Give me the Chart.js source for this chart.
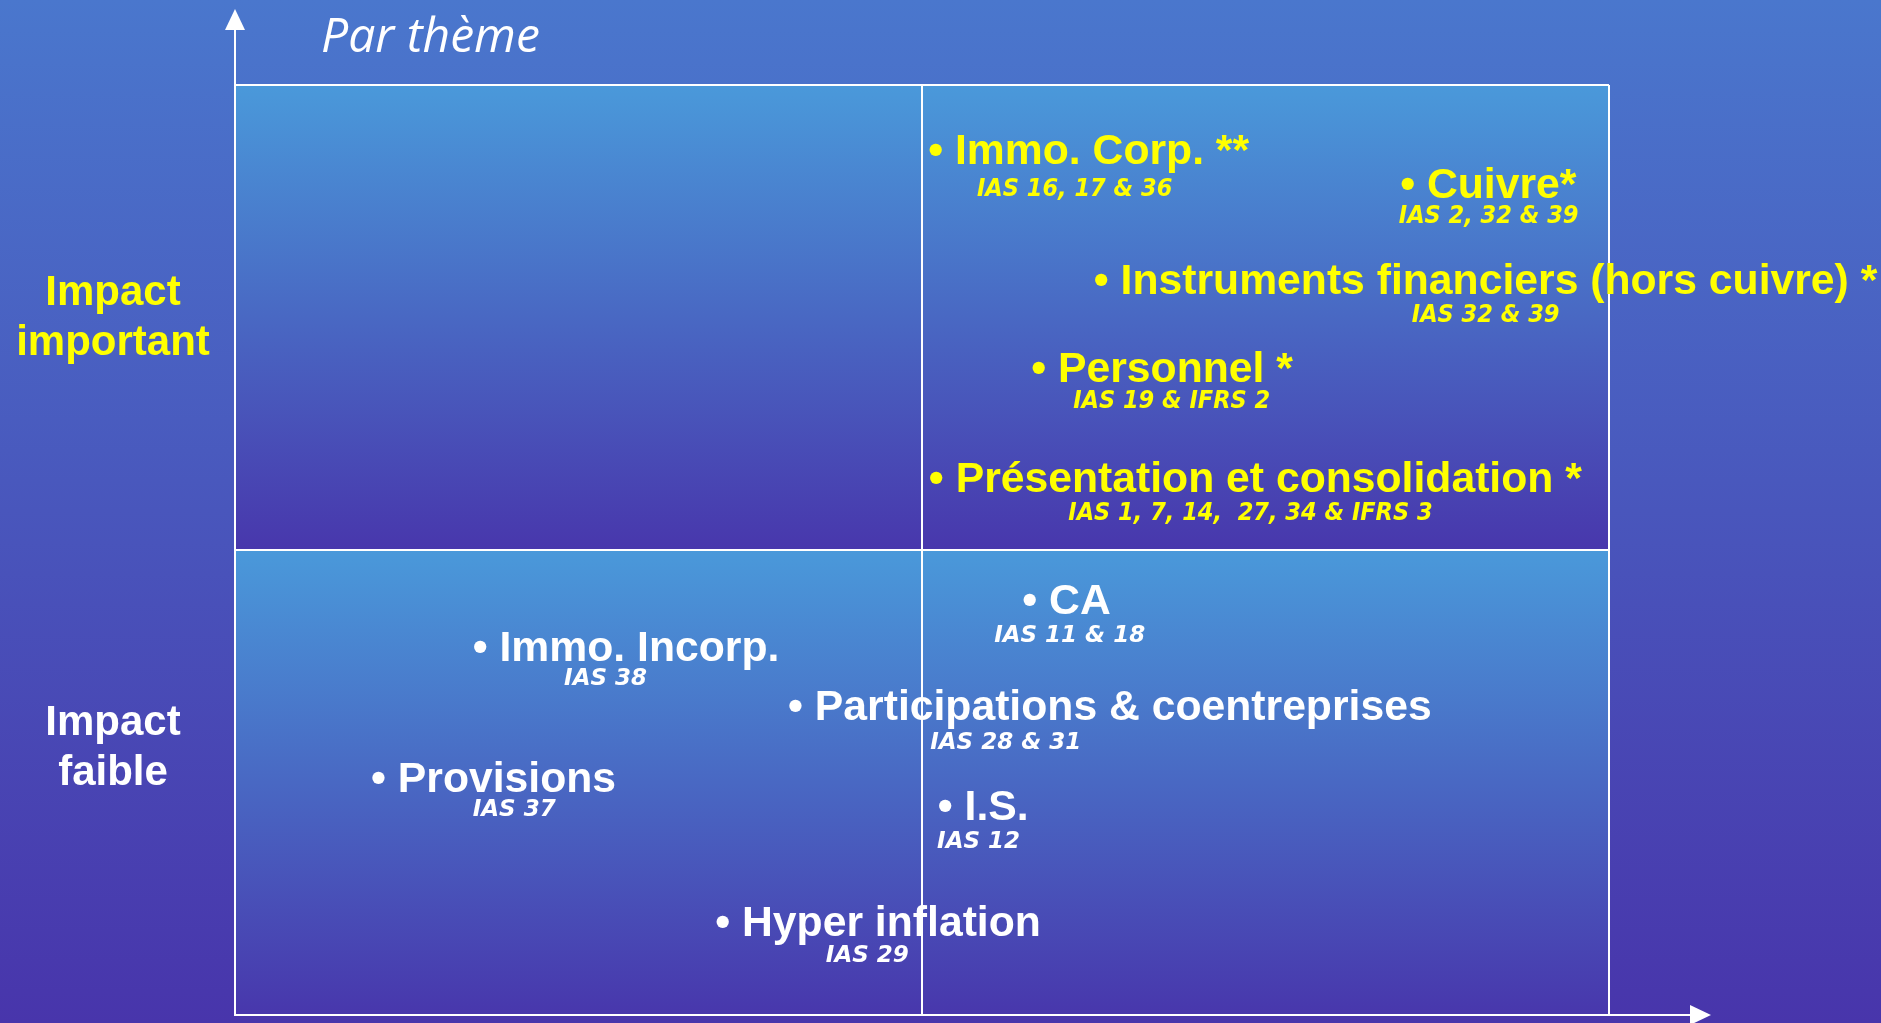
<!DOCTYPE html>
<html>
<head>
<meta charset="utf-8">
<script src="https://cdn.jsdelivr.net/npm/chart.js@4.4.1/dist/chart.umd.min.js"></script>
<style>
  html, body { margin: 0; padding: 0; overflow: hidden; background: #4836ac; }
  #wrap { width: 1881px; height: 1023px; position: relative; }
</style>
</head>
<body>
<div id="wrap"><canvas id="matrice"></canvas></div>
<script>
// themes IFRS - position dans la matrice (x: 0..2, impact y: 0..2)
const titre = "Par thème";
const niveaux = [["Impact", "faible"], ["Impact", "important"]];

const themes = [
  "Immo. Corp. **",
  "Cuivre*",
  "Instruments financiers (hors cuivre) *",
  "Personnel *",
  "Présentation et consolidation *",
  "CA",
  "Immo. Incorp.",
  "Participations & coentreprises",
  "Provisions",
  "I.S.",
  "Hyper inflation",
];
const themeX = [1.009, 1.696, 1.25, 1.159, 1.01, 1.146, 0.346, 0.805, 0.198, 1.023, 0.699];
const themeY = [1.83, 1.757, 1.551, 1.361, 1.125, 0.862, 0.761, 0.634, 0.48, 0.419, 0.17];

const normes = [
  "IAS 16, 17 & 36",
  "IAS 2, 32 & 39",
  "IAS 32 & 39",
  "IAS 19 & IFRS 2",
  "IAS 1, 7, 14,  27, 34 & IFRS 3",
  "IAS 11 & 18",
  "IAS 38",
  "IAS 28 & 31",
  "IAS 37",
  "IAS 12",
  "IAS 29",
];
const normeX = [1.08, 1.694, 1.713, 1.22, 1.213, 1.105, 0.479, 1.012, 0.346, 1.022, 0.86];
const normeY = [1.761, 1.703, 1.49, 1.305, 1.065, 0.802, 0.71, 0.572, 0.428, 0.359, 0.114];

const JAUNE = "#ffff00";
const BLANC = "#ffffff";

const points = themes.map((t, i) => ({ x: themeX[i], y: themeY[i] }));

const decorPlugin = {
  id: "decor",
  beforeDraw(chart) {
    const { ctx, chartArea: a, scales } = chart;
    const W = chart.width, H = chart.height;
    // fond general
    let g = ctx.createLinearGradient(0, 0, 0, H);
    g.addColorStop(0, "#4a77cd");
    g.addColorStop(1, "#4835ab");
    ctx.fillStyle = g;
    ctx.fillRect(0, 0, W, H);
    // deux bandes (impact important / faible)
    const yMid = scales.y.getPixelForValue(1);
    [[a.top, yMid], [yMid, a.bottom]].forEach(([t, b]) => {
      const gr = ctx.createLinearGradient(0, t, 0, b);
      gr.addColorStop(0, "#4a99da");
      gr.addColorStop(1, "#4837ac");
      ctx.fillStyle = gr;
      ctx.fillRect(a.left, t, a.right - a.left, b - t);
    });
  },
  afterDraw(chart) {
    const { ctx, chartArea: a, scales } = chart;
    ctx.save();
    // axes avec fleches
    ctx.strokeStyle = BLANC;
    ctx.fillStyle = BLANC;
    ctx.lineWidth = 2;
    ctx.beginPath();
    ctx.moveTo(a.left, 28);
    ctx.lineTo(a.left, a.bottom);
    ctx.lineTo(1692, a.bottom);
    ctx.stroke();
    ctx.beginPath();
    ctx.moveTo(a.left, 9);
    ctx.lineTo(a.left - 10, 30);
    ctx.lineTo(a.left + 10, 30);
    ctx.closePath();
    ctx.fill();
    ctx.beginPath();
    ctx.moveTo(1711, a.bottom);
    ctx.lineTo(1690, a.bottom - 10);
    ctx.lineTo(1690, a.bottom + 10);
    ctx.closePath();
    ctx.fill();

    // titre
    ctx.font = "italic 48px 'Open Sans', sans-serif";
    ctx.textAlign = "left";
    ctx.textBaseline = "alphabetic";
    ctx.fillText(titre, 321, 52);

    // niveaux d'impact
    ctx.textAlign = "center";
    ctx.font = "bold 42px 'Liberation Sans', Arial, sans-serif";
    niveaux.forEach((lignes, i) => {
      const yc = scales.y.getPixelForValue(i === 1 ? 1.5 : 0.5);
      const y0 = i === 1 ? yc - 13 : yc - 48;
      ctx.fillStyle = i === 1 ? JAUNE : BLANC;
      lignes.forEach((l, k) => ctx.fillText(l, 113, y0 + k * 50));
    });

    // themes et normes
    ctx.textAlign = "left";
    const meta = chart.getDatasetMeta(0);
    meta.data.forEach((pt, i) => {
      const fort = themeY[i] > 1;
      ctx.fillStyle = fort ? JAUNE : BLANC;
      ctx.font = "bold 42.7px 'Liberation Sans', Arial, sans-serif";
      ctx.fillText("\u2022 " + themes[i], pt.x, pt.y);
      ctx.font = fort
        ? "italic bold 25px 'DejaVu Sans Condensed', 'DejaVu Sans', sans-serif"
        : "italic bold 23px 'DejaVu Sans', sans-serif";
      ctx.fillText(normes[i], scales.x.getPixelForValue(normeX[i]), scales.y.getPixelForValue(normeY[i]));
    });
    ctx.restore();
  },
};

new Chart(document.getElementById("matrice"), {
  type: "scatter",
  data: {
    datasets: [
      {
        label: "Thèmes",
        data: points,
        pointRadius: 0,
        pointHoverRadius: 0,
      },
    ],
  },
  options: {
    responsive: true,
    maintainAspectRatio: false,
    animation: false,
    events: [],
    layout: { padding: { left: 235, right: 272, top: 85, bottom: 8 } },
    plugins: {
      legend: { display: false },
      tooltip: { enabled: false },
      title: { display: false },
    },
    scales: {
      x: {
        min: 0,
        max: 2,
        ticks: { display: false, stepSize: 1 },
        grid: { color: BLANC, lineWidth: 2, drawTicks: false },
        border: { display: false },
        afterFit: (s) => { s.height = 0; },
      },
      y: {
        min: 0,
        max: 2,
        ticks: { display: false, stepSize: 1 },
        grid: { color: BLANC, lineWidth: 2, drawTicks: false },
        border: { display: false },
        afterFit: (s) => { s.width = 0; },
      },
    },
  },
  plugins: [decorPlugin],
});
</script>
</body>
</html>
